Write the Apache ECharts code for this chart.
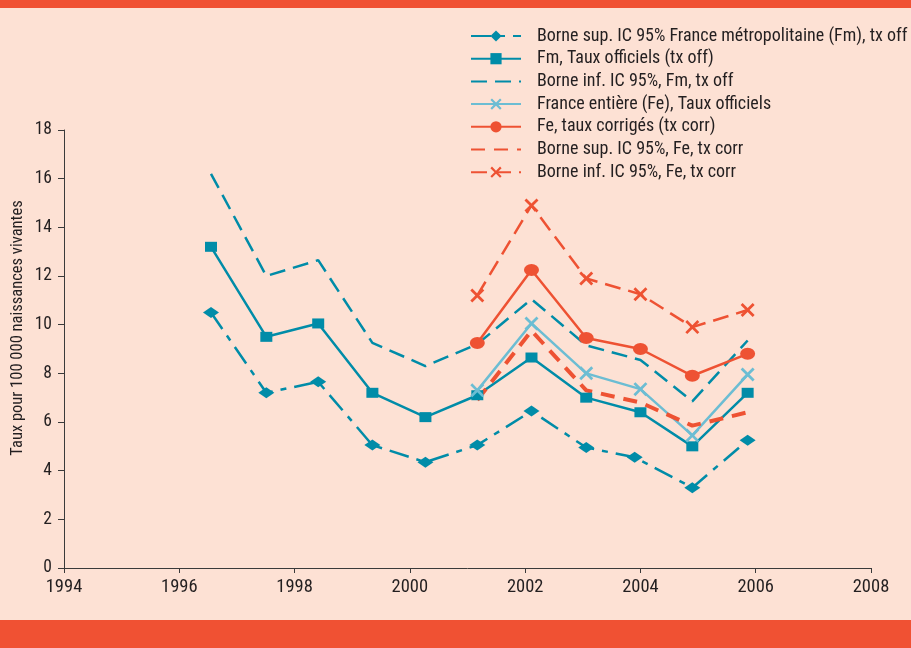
<!DOCTYPE html>
<html>
<head>
<meta charset="utf-8">
<script src="https://cdn.jsdelivr.net/npm/echarts@6/dist/echarts.min.js"></script>
<style>
html,body{margin:0;padding:0;background:#FDE1D4;}
#c{width:911px;height:648px;}
</style>
</head>
<body>
<div id="c"></div>
<script>
// Data
const names = [
  'Borne sup. IC 95% France métropolitaine (Fm), tx off',
  'Fm, Taux officiels (tx off)',
  'Borne inf. IC 95%, Fm, tx off',
  'France entière (Fe), Taux officiels',
  'Fe, taux corrigés (tx corr)',
  'Borne sup. IC 95%, Fe, tx corr',
  'Borne inf. IC 95%, Fe, tx corr'
];
const xFm  = [1996.55, 1997.51, 1998.41, 1999.35, 2000.27, 2001.17, 2002.11, 2003.06, 2004.0, 2004.9, 2005.86];
const xSup = [1996.55, 1997.51, 1998.41, 1999.35, 2000.27, 2001.17, 2002.11, 2003.06, 2003.9, 2004.9, 2005.86];
const xFe  = [2001.17, 2002.11, 2003.06, 2004.0, 2004.9, 2005.86];
const supFm  = [10.5, 7.2, 7.65, 5.05, 4.35, 5.05, 6.45, 4.95, 4.55, 3.3, 5.25];
const fmOff  = [13.2, 9.5, 10.05, 7.2, 6.2, 7.1, 8.65, 7.0, 6.4, 5.0, 7.2];
const infFm  = [16.2, 12.0, 12.65, 9.25, 8.3, 9.2, 11.05, 9.15, 8.55, 6.85, 9.35];
const feOff  = [7.3, 10.05, 8.0, 7.35, 5.45, 7.95];
const feCorr = [9.25, 12.25, 9.45, 9.0, 7.9, 8.8];
const supFe  = [6.9, 9.75, 7.3, 6.8, 5.85, 6.4];
const infFe  = [11.2, 14.9, 11.9, 11.25, 9.9, 10.6];
const xTicks = [1994, 1996, 1998, 2000, 2002, 2004, 2006, 2008];
const yTicks = [0, 2, 4, 6, 8, 10, 12, 14, 16, 18];
const yName = 'Taux pour 100 000 naissances vivantes';

const TEAL = '#008CA8', LIGHT = '#6CBDD3', RED = '#EE5233', TXT = '#231F20';
const FONT = '"Liberation Sans Narrow", "Roboto Condensed", "Liberation Sans", sans-serif';
const XSYM = 'path://M0,1.4L1.4,0L5,3.6L8.6,0L10,1.4L6.4,5L10,8.6L8.6,10L5,6.4L1.4,10L0,8.6L3.6,5Z';

const pair = (xs, ys) => xs.map((v, i) => [v, ys[i]]);

function mk(name, xs, ys, opt) {
  return Object.assign({
    name: name, type: 'line', data: pair(xs, ys),
    showAllSymbol: true, animation: false
  }, opt);
}

const series = [
  mk(names[0], xSup, supFm, {
    symbol: 'diamond', symbolSize: [16, 11],
    itemStyle: {color: TEAL},
    lineStyle: {color: TEAL, width: 2.5, type: [20, 8, 6, 8]}
  }),
  mk(names[1], xFm, fmOff, {
    symbol: 'rect', symbolSize: [12, 10],
    itemStyle: {color: TEAL},
    lineStyle: {color: TEAL, width: 2.5}
  }),
  mk(names[2], xFm, infFm, {
    symbol: 'none',
    itemStyle: {color: TEAL},
    lineStyle: {color: TEAL, width: 2.5, type: [16, 8]}
  }),
  mk(names[3], xFe, feOff, {
    symbol: XSYM, symbolSize: 14,
    itemStyle: {color: LIGHT},
    lineStyle: {color: LIGHT, width: 2.5}
  }),
  mk(names[4], xFe, feCorr, {
    symbol: 'circle', symbolSize: [15, 12],
    itemStyle: {color: RED},
    lineStyle: {color: RED, width: 2.5}
  }),
  mk(names[5], xFe, supFe, {
    symbol: 'none',
    itemStyle: {color: RED},
    lineStyle: {color: RED, width: 4, type: [14, 9]}
  }),
  mk(names[6], xFe, infFe, {
    symbol: XSYM, symbolSize: 14,
    itemStyle: {color: RED},
    lineStyle: {color: RED, width: 2.5, type: [16, 8]}
  })
];

const noSym = {2: true, 5: true};
const legendData = names.map((n, i) => noSym[i]
  ? {name: n, itemStyle: {color: 'rgba(0,0,0,0)', borderWidth: 0, opacity: 0}}
  : {name: n});

const chart = echarts.init(document.getElementById('c'), null, {renderer: 'canvas'});
chart.setOption({
  backgroundColor: '#FDE1D4',
  animation: false,
  textStyle: {fontFamily: FONT},
  grid: {left: 64, right: 40, top: 130, bottom: 80, containLabel: false},
  legend: {
    orient: 'vertical', left: 465, top: 22,
    itemWidth: 50, itemHeight: 14, itemGap: 4.7,
    data: legendData,
    textStyle: {fontSize: 18, lineHeight: 17, color: TXT, fontFamily: FONT, padding: [0, 0, 0, 11]}
  },
  xAxis: {
    type: 'value', min: xTicks[0], max: xTicks[xTicks.length - 1], interval: 2,
    axisLine: {lineStyle: {color: '#3a3a3a', width: 1}},
    axisTick: {show: true, length: 5, lineStyle: {color: '#3a3a3a'}},
    splitLine: {show: false},
    axisLabel: {fontSize: 18.5, color: TXT, margin: 10, fontFamily: FONT,
      formatter: v => String(v)}
  },
  yAxis: {
    type: 'value', min: yTicks[0], max: yTicks[yTicks.length - 1], interval: 2,
    axisLine: {show: true, lineStyle: {color: '#3a3a3a', width: 1}},
    axisTick: {show: true, length: 6, lineStyle: {color: '#3a3a3a'}},
    splitLine: {show: false},
    axisLabel: {fontSize: 17.5, color: TXT, margin: 12, fontFamily: FONT}
  },
  graphic: [
    {type: 'rect', left: 0, top: 0, shape: {width: 911, height: 8}, style: {fill: '#F05133'}, silent: true},
    {type: 'rect', left: 0, top: 620, shape: {width: 911, height: 28}, style: {fill: '#F05133'}, silent: true},
    {type: 'text', x: 18, y: 328, rotation: Math.PI / 2,
      style: {text: yName, fontSize: 16.5, fill: TXT, fontFamily: FONT,
        align: 'center', verticalAlign: 'middle'}}
  ],
  series: series
});
</script>
</body>
</html>
